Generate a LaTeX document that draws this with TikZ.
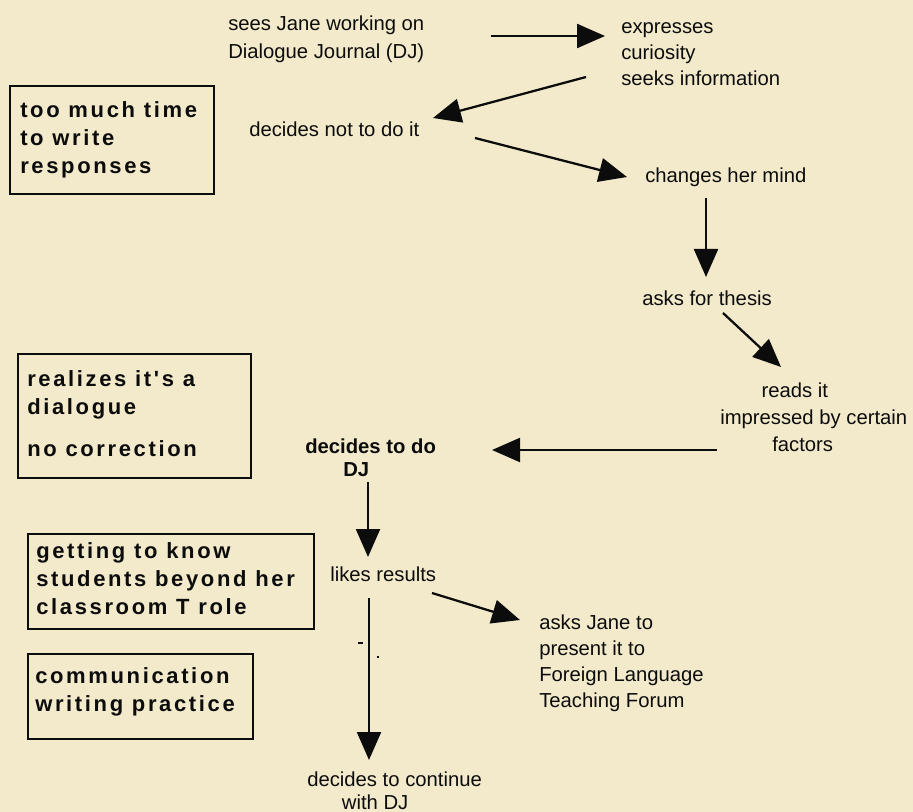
\documentclass[tikz,border=0pt]{standalone}
\usepackage{fontspec}
\setmainfont{Liberation Sans}
\newfontfamily\boxfont[LetterSpace=12]{Liberation Sans}
\usetikzlibrary{arrows.meta,calc}
\definecolor{paper}{RGB}{242,234,203}
\definecolor{ink}{RGB}{12,12,12}
% left-aligned block whose baseline is the first line's baseline
\newcommand\mylines[1]{\begin{tabular}[t]{@{}l@{}}#1\end{tabular}}

\begin{document}
\begin{tikzpicture}[x=0.75pt,y=-0.75pt,
  lbl/.style={inner sep=0pt, anchor=base west, text=ink, font=\fontsize{15.2}{#1}\selectfont},
  lbl/.default={19.5pt},
  boldlbl/.style={lbl=#1, font=\bfseries\fontsize{15.2}{#1}\selectfont},
  noteframe/.style={draw=ink, line width=1.3pt, inner sep=0pt, anchor=north west},
  notetext/.style={inner sep=0pt, anchor=west, text=ink, font=\boxfont\bfseries\fontsize{16.5}{21}\selectfont},
  flowarrow/.style={draw=ink, line width=1.7pt, -{Triangle[length=21pt,width=18pt]}}]

% page
\fill[paper] (0,0) rectangle (913,812);
\useasboundingbox (0,0) rectangle (913,812);

% ---- sequence of events ----
\node[lbl=21pt] (sees) at (228,31) {\mylines{sees Jane working on\\ Dialogue Journal (DJ)}};
\node[lbl] (curious) at (621,34) {\mylines{expresses\\ curiosity\\ seeks information}};
\node[lbl] (notdo) at (249,137) {decides not to do it};
\node[lbl] (mind) at (645,183) {changes her mind};
\node[lbl] (thesis) at (642,306) {asks for thesis};
\node[lbl=20pt] (reads) at (720,398) {\mylines{\hspace*{31pt}reads it\\ impressed by certain\\ \hspace*{39pt}factors}};
\node[boldlbl=17.5pt] (dodj) at (305,453) {\mylines{decides to do\\ \hspace*{28.5pt}DJ}};
\node[lbl] (likes) at (330,581) {likes results};
\node[lbl=19.7pt] (present) at (539,629) {\mylines{asks Jane to\\ present it to\\ Foreign Language\\ Teaching Forum}};
\node[lbl=17.5pt] (continue) at (307,786) {\mylines{decides to continue\\ \hspace*{26pt}with DJ}};

% ---- side notes ----
\node[noteframe, minimum width=153pt, minimum height=81pt] (n1) at (9,85) {};
\node[notetext] (n1t) at ($(n1.west)+(11,0)$) {\mylines{too much time\\ to write\\ responses}};

\node[noteframe, minimum width=174.75pt, minimum height=93pt] (n2) at (17,353) {};
\node[notetext] (n2t) at ($(n2.west)+(10,0)$) {\mylines{realizes it's a\\ dialogue\\[11pt] no correction}};

\node[noteframe, minimum width=214.5pt, minimum height=71.25pt] (n3) at (27,533) {};
\node[notetext] (n3t) at ($(n3.west)+(9,0)$) {\mylines{getting to know\\ students beyond her\\ classroom T role}};

\node[noteframe, minimum width=168.75pt, minimum height=63.75pt] (n4) at (27,653) {};
\node[notetext] (n4t) at ($(n4.west)+(8,-4)$) {\mylines{communication\\ writing practice}};

% ---- arrow ends ----
\coordinate (a1s) at (491,36);  \coordinate (a1e) at (605,36);
\coordinate (a2s) at (586,77);  \coordinate (a2e) at (433,118);
\coordinate (a3s) at (475,138); \coordinate (a3e) at (627,177);
\coordinate (a4s) at (706,198); \coordinate (a4e) at (706,277);
\coordinate (a5s) at (723,313); \coordinate (a5e) at (781,367);
\coordinate (a6s) at (717,450); \coordinate (a6e) at (492,450);
\coordinate (a7s) at (368,482); \coordinate (a7e) at (368,557);
\coordinate (a8s) at (432,593); \coordinate (a8e) at (520,620);
\coordinate (a9s) at (369,598); \coordinate (a9e) at (369,760);

\draw[flowarrow] (a1s) -- (a1e);
\draw[flowarrow] (a2s) -- (a2e);
\draw[flowarrow] (a3s) -- (a3e);
\draw[flowarrow] (a4s) -- (a4e);
\draw[flowarrow] (a5s) -- (a5e);
\draw[flowarrow] (a6s) -- (a6e);
\draw[flowarrow] (a7s) -- (a7e);
\draw[flowarrow] (a8s) -- (a8e);
\draw[flowarrow] (a9s) -- (a9e);

% small stray marks beside the last arrow
\draw[ink, line width=1pt] (358,643) -- (363,643);
\draw[ink, line width=0.8pt] (377,657) -- (379,657);
\end{tikzpicture}
\end{document}
